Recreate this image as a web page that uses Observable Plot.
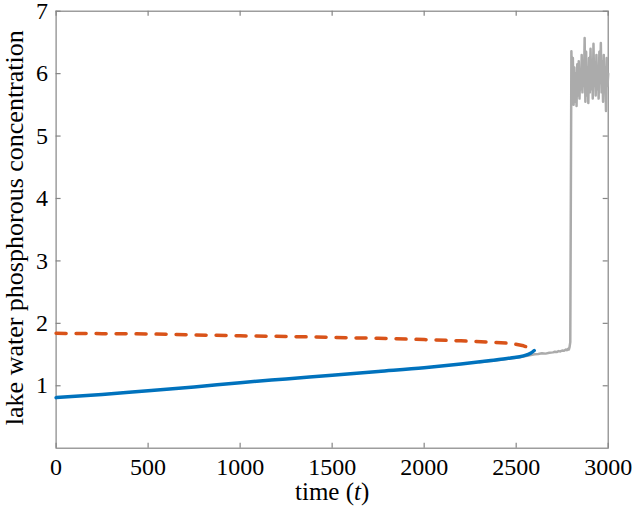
<!DOCTYPE html>
<html>
<head>
<meta charset="utf-8">
<script src="https://cdn.jsdelivr.net/npm/d3@7"></script>
<script src="https://cdn.jsdelivr.net/npm/@observablehq/plot@0.6"></script>
<style>
  html, body { margin: 0; padding: 0; background: #fff; }
  #chart svg { display: block; }
</style>
</head>
<body>
<div id="chart"></div>
<script>
// Equilibrium branches vs time
const tBranch   = [0, 250, 500, 750, 1000, 1250, 1500, 1750, 2000, 2200, 2350, 2470, 2540, 2578, 2598];
const stable    = [0.81, 0.86, 0.92, 0.98, 1.05, 1.11, 1.17, 1.23, 1.29, 1.35, 1.40, 1.445, 1.48, 1.52, 1.565];
const unstable  = [1.84, 1.835, 1.83, 1.815, 1.80, 1.79, 1.775, 1.76, 1.74, 1.72, 1.70, 1.68, 1.64, 1.60, 1.565];

// Simulated trajectory (gray)
const tSim = [2300, 2400, 2500, 2560, 2600, 2620, 2640, 2660, 2680, 2700, 2710, 2720, 2730, 2740, 2750, 2760, 2770, 2776, 2782, 2786, 2790, 2794,
  2800, 2804, 2808, 2812, 2816, 2820, 2824, 2828, 2832, 2836, 2840, 2844, 2848, 2852, 2856, 2860, 2864, 2868, 2872, 2876, 2880, 2884, 2888, 2892,
  2896, 2900, 2904, 2908, 2912, 2916, 2920, 2924, 2928, 2932, 2936, 2940, 2944, 2948, 2952, 2956, 2960, 2964, 2968, 2972, 2976, 2980, 2984, 2988,
  2992, 2996, 3000];
const pSim = [1.375, 1.41, 1.45, 1.48, 1.505, 1.51, 1.52, 1.515, 1.53, 1.535, 1.545, 1.54, 1.555, 1.55, 1.565, 1.56, 1.58, 1.57, 1.59, 1.58, 1.62, 1.70,
  6.36, 5.70, 6.25, 5.50, 6.10, 5.55, 6.00, 5.48, 6.15, 5.65, 6.20, 5.60, 6.05, 5.75, 6.30, 5.70, 6.20, 5.80, 6.57, 5.55, 6.35, 5.65, 6.10, 5.53,
  6.25, 5.70, 6.40, 5.75, 6.20, 5.60, 6.48, 5.80, 6.15, 5.65, 6.30, 5.75, 6.10, 5.60, 6.35, 5.85, 6.49, 5.70, 6.20, 5.55, 6.30, 5.75, 6.10, 5.40,
  6.25, 5.80, 6.00];

const xTicks = [0, 500, 1000, 1500, 2000, 2500, 3000];
const yTicks = [1, 2, 3, 4, 5, 6, 7];
const xLabel = "time (t)";
const yLabel = "lake water phosphorous concentration";

const stableData = tBranch.map((t, i) => ({t, p: stable[i]}));
const unstableData = tBranch.map((t, i) => ({t, p: unstable[i]}));
const simData = tSim.map((t, i) => ({t, p: pSim[i]}));

const W = 633, H = 508;
const mL = 55.6, mR = 25.3, mT = 10.7, mB = 60.3;
const frameW = W - mL - mR, frameH = H - mT - mB;
const tickLen = 5;

const axisColor = "#858585";
const font = "'Liberation Serif', 'Times New Roman', serif";

const chart = Plot.plot({
  width: W,
  height: H,
  marginLeft: mL,
  marginRight: mR,
  marginTop: mT,
  marginBottom: mB,
  style: {fontFamily: font, fontSize: "24px", color: "#000", background: "#fff"},
  x: {domain: [0, 3000]},
  y: {domain: [0, 7]},
  marks: [
    Plot.axisX(xTicks, {anchor: "bottom", tickSize: 0, tickPadding: 10, fill: "#000", label: null, tickFormat: d => String(d)}),
    Plot.axisY(yTicks, {anchor: "left", tickSize: 0, tickPadding: 8, fill: "#000", label: null, tickFormat: d => String(d)}),
    // inward ticks on all four sides
    Plot.tickX(xTicks, {x: d => d, insetTop: frameH - tickLen, stroke: axisColor, strokeWidth: 1.2}),
    Plot.tickX(xTicks, {x: d => d, insetBottom: frameH - tickLen, stroke: axisColor, strokeWidth: 1.2}),
    Plot.tickY(yTicks, {y: d => d, insetRight: frameW - tickLen, stroke: axisColor, strokeWidth: 1.2}),
    Plot.tickY(yTicks, {y: d => d, insetLeft: frameW - tickLen, stroke: axisColor, strokeWidth: 1.2}),
    Plot.frame({stroke: axisColor, strokeWidth: 1.2}),
    Plot.line(simData, {x: "t", y: "p", stroke: "#ababab", strokeWidth: 2.5, curve: "linear"}),
    Plot.line(stableData, {x: "t", y: "p", stroke: "#0072BD", strokeWidth: 3.5, curve: "monotone-x"}),
    Plot.line(unstableData, {x: "t", y: "p", stroke: "#D95319", strokeWidth: 3.5, strokeDasharray: "10,10", curve: "linear"}),
    Plot.text([yLabel], {frameAnchor: "left", textAnchor: "middle", dx: -33.6, dy: -2, rotate: -90, lineAnchor: "bottom", fontSize: 26, fill: "#000", text: d => d}),
    Plot.text([xLabel], {frameAnchor: "bottom", textAnchor: "middle", dy: 52, lineAnchor: "bottom", fontSize: 25, fill: "#000", text: d => d, className: "xlabel"})
  ]
});

document.getElementById("chart").appendChild(chart);

// italicize the "t" in "time (t)"
const xl = chart.querySelector(".xlabel text") || Array.from(chart.querySelectorAll("text")).find(n => n.textContent === xLabel);
if (xl) {
  const parts = xLabel.match(/^(.*\()(.)(\).*)$/);
  if (parts) {
    xl.textContent = "";
    const ns = "http://www.w3.org/2000/svg";
    const a = document.createElementNS(ns, "tspan"); a.textContent = parts[1];
    const b = document.createElementNS(ns, "tspan"); b.textContent = parts[2]; b.setAttribute("font-style", "italic");
    const c = document.createElementNS(ns, "tspan"); c.textContent = parts[3];
    xl.append(a, b, c);
  }
}
</script>
</body>
</html>
